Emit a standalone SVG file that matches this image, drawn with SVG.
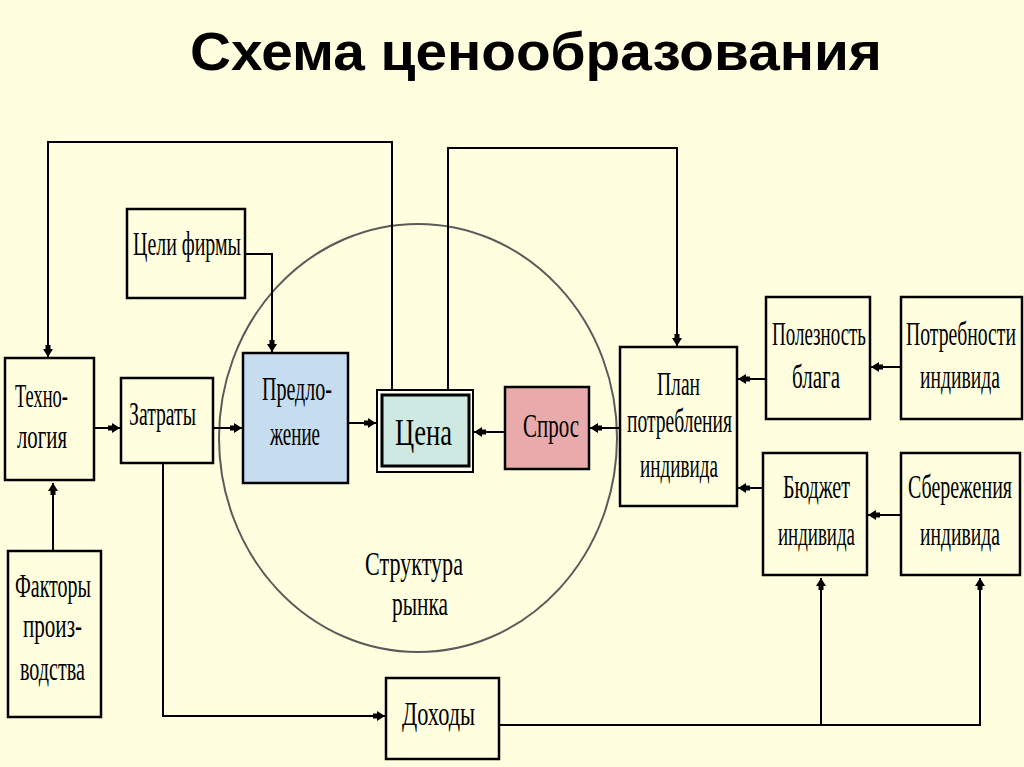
<svg xmlns="http://www.w3.org/2000/svg" width="1024" height="767" viewBox="0 0 1024 767">
<defs>
<style>
.bx{fill:#FFFFE0;stroke:#000;stroke-width:2.5}
.t{font-family:"Liberation Serif","Times New Roman",serif;font-size:34px;fill:#000}
.ln{fill:none;stroke:#000;stroke-width:2}
.title{font-family:"Liberation Sans",Arial,sans-serif;font-weight:bold;font-size:54px;fill:#000}
</style>
<marker id="ar" markerUnits="userSpaceOnUse" markerWidth="13" markerHeight="11" refX="12" refY="5.5" orient="auto">
<path d="M0,3 H4 V0.5 L12,5.5 L4,10.5 V8 H0 Z" fill="#000"/>
</marker>
</defs>
<rect x="0" y="0" width="1024" height="767" fill="#FFFFE0"/>
<text class="title" x="536" y="70" text-anchor="middle" textLength="692" lengthAdjust="spacingAndGlyphs">Схема ценообразования</text>

<g id="market">
<ellipse cx="418" cy="438" rx="199" ry="214" fill="none" stroke="#5a5a5a" stroke-width="2"/>
<text class="t" transform="translate(365,575) scale(0.6,1)" textLength="163.3" lengthAdjust="spacingAndGlyphs">Структура</text>
<text class="t" transform="translate(392,615) scale(0.6,1)" textLength="93.3" lengthAdjust="spacingAndGlyphs">рынка</text>
</g>

<g id="connectors">
<path class="ln" d="M392,390 V142 H48 V357" marker-end="url(#ar)"/>
<path class="ln" d="M448,390 V148 H677 V346" marker-end="url(#ar)"/>
<path class="ln" d="M245,254 H272 V352" marker-end="url(#ar)"/>
<path class="ln" d="M94,428 H120" marker-end="url(#ar)"/>
<path class="ln" d="M213,428 H242" marker-end="url(#ar)"/>
<path class="ln" d="M348,423 H376" marker-end="url(#ar)"/>
<path class="ln" d="M505,432 H474" marker-end="url(#ar)"/>
<path class="ln" d="M620,428 H590" marker-end="url(#ar)"/>
<path class="ln" d="M766,379 H738" marker-end="url(#ar)"/>
<path class="ln" d="M901,367 H871" marker-end="url(#ar)"/>
<path class="ln" d="M763,488 H738" marker-end="url(#ar)"/>
<path class="ln" d="M901,515 H868" marker-end="url(#ar)"/>
<path class="ln" d="M53,551 V483" marker-end="url(#ar)"/>
<path class="ln" d="M163,463 V716 H385" marker-end="url(#ar)"/>
<path class="ln" d="M499,725 H980 V578" marker-end="url(#ar)"/>
<path class="ln" d="M821,725 V578" marker-end="url(#ar)"/>
</g>

<g id="celi">
<rect class="bx" x="127" y="209" width="118" height="89"/>
<text class="t" transform="translate(133,255) scale(0.6,1)" textLength="180" lengthAdjust="spacingAndGlyphs">Цели фирмы</text>
</g>
<g id="tehnologia">
<rect class="bx" x="5" y="358" width="89" height="122"/>
<text class="t" transform="translate(15,407) scale(0.6,1)" textLength="88.3" lengthAdjust="spacingAndGlyphs">Техно-</text>
<text class="t" transform="translate(17,448) scale(0.6,1)" textLength="83.3" lengthAdjust="spacingAndGlyphs">логия</text>
</g>
<g id="zatraty">
<rect class="bx" x="121" y="378" width="92" height="85"/>
<text class="t" transform="translate(129,425) scale(0.6,1)" textLength="111.7" lengthAdjust="spacingAndGlyphs">Затраты</text>
</g>
<g id="predlozhenie">
<rect class="bx" x="243" y="353" width="105" height="130" style="fill:#C6DCEF"/>
<text class="t" transform="translate(262,400) scale(0.6,1)" textLength="116.7" lengthAdjust="spacingAndGlyphs">Предло-</text>
<text class="t" transform="translate(270,445) scale(0.6,1)" textLength="83.3" lengthAdjust="spacingAndGlyphs">жение</text>
</g>
<g id="cena">
<rect x="377" y="390" width="96" height="82" fill="#FFFFF2" stroke="#000" stroke-width="2"/>
<rect x="382" y="395" width="87" height="71" fill="#CDE9E1" stroke="#000" stroke-width="3"/>
<text class="t" transform="translate(395,445) scale(0.6,1)" style="font-size:38px" textLength="95" lengthAdjust="spacingAndGlyphs">Цена</text>
</g>
<g id="spros">
<rect class="bx" x="505" y="387" width="84" height="82" style="fill:#E8AAAA"/>
<text class="t" transform="translate(523,437) scale(0.6,1)" textLength="93.3" lengthAdjust="spacingAndGlyphs">Спрос</text>
</g>
<g id="plan">
<rect class="bx" x="620" y="347" width="117" height="159"/>
<text class="t" transform="translate(657,395) scale(0.6,1)" textLength="71.7" lengthAdjust="spacingAndGlyphs">План</text>
<text class="t" transform="translate(627,432) scale(0.6,1)" textLength="175" lengthAdjust="spacingAndGlyphs">потребления</text>
<text class="t" transform="translate(640,477) scale(0.6,1)" textLength="130" lengthAdjust="spacingAndGlyphs">индивида</text>
</g>
<g id="poleznost">
<rect class="bx" x="766" y="297" width="104" height="122"/>
<text class="t" transform="translate(772,345) scale(0.6,1)" textLength="156.7" lengthAdjust="spacingAndGlyphs">Полезность</text>
<text class="t" transform="translate(792,388) scale(0.6,1)" textLength="80" lengthAdjust="spacingAndGlyphs">блага</text>
</g>
<g id="potrebnosti">
<rect class="bx" x="901" y="297" width="121" height="122"/>
<text class="t" transform="translate(906,345) scale(0.6,1)" textLength="183.3" lengthAdjust="spacingAndGlyphs">Потребности</text>
<text class="t" transform="translate(920,388) scale(0.6,1)" textLength="133.3" lengthAdjust="spacingAndGlyphs">индивида</text>
</g>
<g id="budzhet">
<rect class="bx" x="763" y="453" width="104" height="122"/>
<text class="t" transform="translate(783,498) scale(0.6,1)" textLength="111.7" lengthAdjust="spacingAndGlyphs">Бюджет</text>
<text class="t" transform="translate(778,545) scale(0.6,1)" textLength="128.3" lengthAdjust="spacingAndGlyphs">индивида</text>
</g>
<g id="sberezhenia">
<rect class="bx" x="901" y="453" width="119" height="122"/>
<text class="t" transform="translate(908,498) scale(0.6,1)" textLength="173.3" lengthAdjust="spacingAndGlyphs">Сбережения</text>
<text class="t" transform="translate(920,545) scale(0.6,1)" textLength="133.3" lengthAdjust="spacingAndGlyphs">индивида</text>
</g>
<g id="faktory">
<rect class="bx" x="8" y="551" width="93" height="166"/>
<text class="t" transform="translate(15,597) scale(0.6,1)" textLength="126.7" lengthAdjust="spacingAndGlyphs">Факторы</text>
<text class="t" transform="translate(23,637) scale(0.6,1)" textLength="98.3" lengthAdjust="spacingAndGlyphs">произ-</text>
<text class="t" transform="translate(20,680) scale(0.6,1)" textLength="108.3" lengthAdjust="spacingAndGlyphs">водства</text>
</g>
<g id="dohody">
<rect class="bx" x="386" y="678" width="113" height="81"/>
<text class="t" transform="translate(402,725) scale(0.6,1)" textLength="121.7" lengthAdjust="spacingAndGlyphs">Доходы</text>
</g>
</svg>
